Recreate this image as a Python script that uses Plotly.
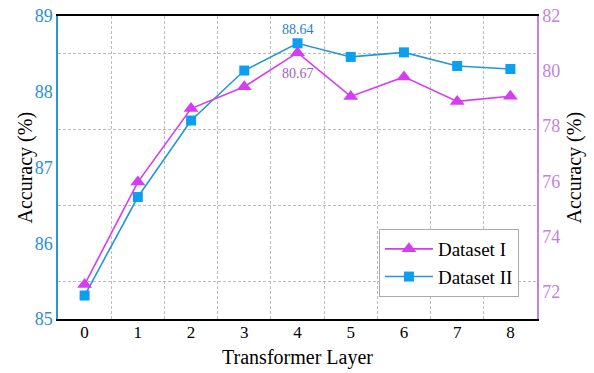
import plotly.graph_objects as go

layers = [0, 1, 2, 3, 4, 5, 6, 7, 8]
dataset1 = [72.25, 75.97, 78.64, 79.43, 80.67, 79.08, 79.79, 78.90, 79.09]
dataset2 = [85.31, 86.61, 87.62, 88.28, 88.64, 88.46, 88.52, 88.34, 88.30]
left_ticks = [85, 86, 87, 88, 89]
right_ticks = [72, 74, 76, 78, 80, 82]

FONT = "Liberation Serif, Times New Roman, serif"
BLUE = "#0a9ff0"
BLUE_LINE = "#2596d6"
PURPLE = "#d63cf2"
PURPLE_AX = "#c77fe0"

fig = go.Figure()
fig.add_trace(go.Scatter(
    x=layers, y=dataset1, name="Dataset I", yaxis="y2",
    mode="lines+markers",
    line=dict(color=PURPLE, width=1.6),
    marker=dict(symbol="triangle-up", size=13, color=PURPLE),
))
fig.add_trace(go.Scatter(
    x=layers, y=dataset2, name="Dataset II", yaxis="y",
    mode="lines+markers",
    line=dict(color=BLUE_LINE, width=1.6),
    marker=dict(symbol="square", size=10, color=BLUE),
))

fig.add_annotation(x=layers[4], y=dataset2[4], xref="x", yref="y", text=f"{dataset2[4]:.2f}",
                   showarrow=False, yshift=14, font=dict(family=FONT, size=14, color="#2a7fbf"))
fig.add_annotation(x=layers[4], y=dataset1[4], xref="x", yref="y2", text=f"{dataset1[4]:.2f}",
                   showarrow=False, yshift=-21, font=dict(family=FONT, size=14, color="#a55cc4"))

# y-axis titles
fig.add_annotation(x=0, y=0.5, xref="paper", yref="paper", text="Accuracy (%)", textangle=-90,
                   showarrow=False, xanchor="center", yanchor="middle", xshift=-33,
                   font=dict(family=FONT, size=20, color="black"))
fig.add_annotation(x=1, y=0.5, xref="paper", yref="paper", text="Accuracy (%)", textangle=-90,
                   showarrow=False, xanchor="center", yanchor="middle", xshift=37,
                   font=dict(family=FONT, size=20, color="black"))

grid = dict(showgrid=True, gridcolor="#bdbdbd", griddash="3px,2px", gridwidth=1)

fig.update_layout(
    width=594, height=373,
    margin=dict(l=58, r=57, t=16, b=54),
    paper_bgcolor="white", plot_bgcolor="white",
    font=dict(family=FONT, size=16, color="black"),
    showlegend=True,
    legend=dict(x=0.67, y=0.297, xanchor="left", yanchor="top",
                bgcolor="white", bordercolor="#aaaaaa", borderwidth=1,
                font=dict(family=FONT, size=19), tracegroupgap=0,
                itemwidth=48),
    xaxis=dict(
        range=[-0.5, 8.5], tickvals=layers, ticktext=[str(v) for v in layers],
        showgrid=False, zeroline=False, automargin=False,
        showline=True, linecolor="black", linewidth=1.5, mirror=True,
        ticks="", tickfont=dict(family=FONT, size=17, color="black"),
        ticklabelstandoff=-3,
        title=dict(text="Transformer Layer", font=dict(family=FONT, size=20), standoff=9),
        minor=dict(tick0=0.5, dtick=1, **grid),
    ),
    yaxis=dict(
        range=[85, 89], tickvals=left_ticks, showgrid=False, zeroline=False, automargin=False,
        showline=True, linecolor=BLUE_LINE, linewidth=1.5,
        ticks="", tickfont=dict(family=FONT, size=18, color="#2a8fd0"),
        minor=dict(tick0=85.5, dtick=1, **grid),
    ),
    yaxis2=dict(
        range=[71, 82], tickvals=right_ticks, overlaying="y", side="right",
        showgrid=False, zeroline=False, automargin=False,
        showline=True, linecolor=PURPLE_AX, linewidth=1.5,
        ticks="", tickfont=dict(family=FONT, size=18, color=PURPLE_AX),
    ),
)

fig.write_html("out.html", config={"displayModeBar": False},
               post_script="document.body.style.margin='0';")
